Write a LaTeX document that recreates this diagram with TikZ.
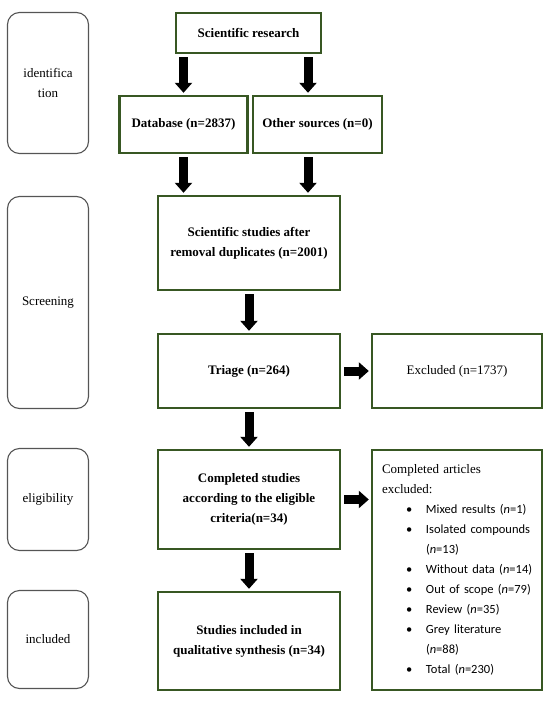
\documentclass[tikz,border=0pt]{standalone}
\usepackage{fontspec}
\setmainfont{Liberation Serif}
\newfontfamily\calibrilike{Carlito}
\usetikzlibrary{arrows.meta}
\definecolor{boxgreen}{RGB}{56,87,35}
\definecolor{stagegray}{RGB}{85,85,85}
\newcommand{\exitem}[1]{\mbox{\hspace*{24pt}\calibrilike\fontsize{12.5}{20}\selectfont\makebox[20pt][l]{\textbullet}#1}}
\newcommand{\exmore}[1]{\mbox{\hspace*{44pt}\calibrilike\fontsize{12.5}{20}\selectfont #1}}

\begin{document}
\begin{tikzpicture}[x=1pt, y=-1pt,
  flowbox/.style={draw=boxgreen, line width=2.4pt, fill=white, align=center, inner sep=0pt,
    font=\bfseries\fontsize{13}{20}\selectfont},
  plainbox/.style={flowbox, font=\fontsize{13}{20}\selectfont},
  stagebox/.style={draw=stagegray, line width=1.1pt, rounded corners=12pt, minimum width=81pt,
    align=center, font=\fontsize{13}{20}\selectfont},
  bigarrow/.style={line width=9pt, -{Triangle[length=10pt, width=17pt]}, shorten <=3pt, shorten >=2pt}
]
\useasboundingbox (0,0) rectangle (550,701);

\node[stagebox, minimum height=141pt] (identification) at (48,83) {identifica\\tion};
\node[stagebox, minimum height=212pt] (screening) at (48,302.5) {Screening};
\node[stagebox, minimum height=102pt] (eligibility) at (48,499.5) {eligibility};
\node[stagebox, minimum height=98pt] (included) at (48,639.5) {included};

\node[flowbox, minimum width=145pt, minimum height=40pt] (research) at (248.5,33) {Scientific research};
\node[flowbox, minimum width=128pt, minimum height=57pt] (database) at (183.5,124.5) {Database (n=2837)};
\node[flowbox, minimum width=129pt, minimum height=57pt] (other) at (317.5,124.5) {Other sources (n=0)};
\node[flowbox, minimum width=182pt, minimum height=94pt] (studies) at (249,243) {Scientific studies after\\removal duplicates (n=2001)};
\node[flowbox, minimum width=182pt, minimum height=74pt] (triage) at (249,371) {Triage (n=264)};
\node[plainbox, minimum width=170pt, minimum height=74pt] (excluded) at (457,371) {Excluded (n=1737)};
\node[flowbox, minimum width=182pt, minimum height=99pt] (eligible) at (249,499.5) {Completed studies\\according to the eligible\\criteria(n=34)};
\node[flowbox, minimum width=182pt, minimum height=98pt] (synthesis) at (249,641) {Studies included in\\qualitative synthesis (n=34)};
\node[plainbox, minimum width=170pt, minimum height=240pt, align=left, text width=150pt] (articles) at (457,570) {%
  Completed articles\\excluded:\\
  \exitem{Mixed results (\textit{n}=1)}\\
  \exitem{Isolated compounds}\\
  \exmore{(\textit{n}=13)}\\
  \exitem{Without data (\textit{n}=14)}\\
  \exitem{Out of scope (\textit{n}=79)}\\
  \exitem{Review (\textit{n}=35)}\\
  \exitem{Grey literature}\\
  \exmore{(\textit{n}=88)}\\
  \exitem{Total (\textit{n}=230)}};

\coordinate (otherin) at ([xshift=-9.5pt]other.north);
\coordinate (otherout) at ([xshift=-9.5pt]other.south);

\draw[bigarrow] (research.south -| database) -- (database.north);
\draw[bigarrow] (research.south -| otherin) -- (otherin);
\draw[bigarrow] (database.south) -- (database.south |- studies.north);
\draw[bigarrow] (otherout) -- (otherout |- studies.north);
\draw[bigarrow] (studies) -- (triage);
\draw[bigarrow] (triage) -- (excluded);
\draw[bigarrow] (triage) -- (eligible);
\draw[bigarrow] (eligible.east) -- (eligible.east -| articles.west);
\draw[bigarrow] (eligible) -- (synthesis);
\end{tikzpicture}
\end{document}
